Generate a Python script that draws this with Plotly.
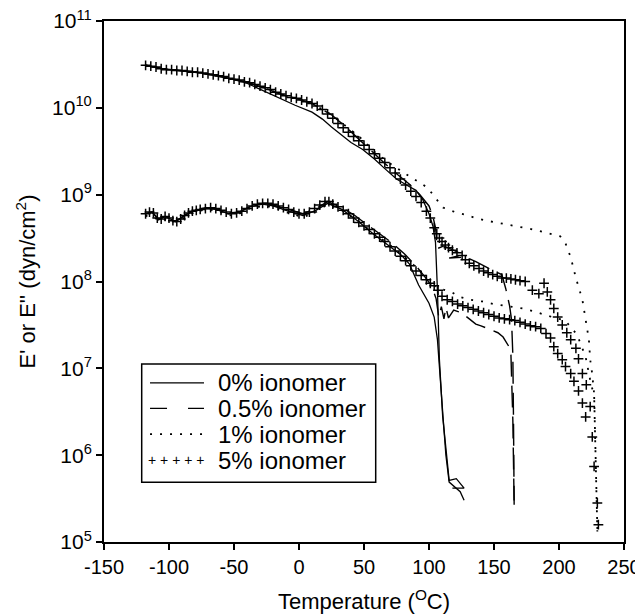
import numpy as np
import plotly.graph_objects as go

# Temperatures in degC, moduli as log10(dyn/cm2)
# E' = storage modulus (upper curves), E'' = loss modulus (lower curves)

# 0% ionomer
T_0_STORAGE = [-118, -105, -92, -79, -67, -54, -41, -28, -15, -3, 10, 18, 25, 32, 40, 49, 58, 66, 75, 84,
               90, 95, 100, 103, 105, 106.5, 108, 110.5, 113, 115.5, 121, 127, 118]
LOG_0_STORAGE = [10.49, 10.45, 10.43, 10.41, 10.38, 10.34, 10.29, 10.20, 10.11, 10.03, 9.95, 9.87, 9.78, 9.70,
                 9.60, 9.52, 9.41, 9.30, 9.18, 9.10, 9.05, 8.95, 8.78, 8.64, 8.45, 7.90, 7.10, 6.45, 6.05,
                 5.71, 5.73, 5.62, 5.62]
T_0_LOSS = [-118, -113, -108, -103, -95, -87, -80, -72, -64, -54, -46, -38, -28, -20, -10, 3, 13, 22, 33, 45,
            57, 68, 79, 85, 92, 100, 104, 106.5, 109, 111, 113, 115.5, 124, 127]
LOG_0_LOSS = [8.78, 8.80, 8.71, 8.75, 8.69, 8.77, 8.82, 8.84, 8.83, 8.78, 8.80, 8.86, 8.89, 8.87, 8.82, 8.76,
              8.82, 8.90, 8.83, 8.70, 8.55, 8.42, 8.30, 8.20, 7.96, 7.75, 7.59, 7.33, 6.87, 6.40, 6.00, 5.69,
              5.58, 5.48]

# 0.5% ionomer
T_05_STORAGE = [-118, -105, -92, -79, -67, -54, -41, -28, -15, -3, 10, 18, 25, 36, 46, 56, 66, 76, 85, 93,
                100, 103, 105, 106.5, 111.5, 126, 115.5, 128, 136, 146, 156, 159, 162, 163.5, 164.5, 165, 165.5]
LOG_05_STORAGE = [10.49, 10.45, 10.43, 10.41, 10.38, 10.34, 10.30, 10.24, 10.16, 10.11, 10.05, 9.98, 9.92,
                  9.78, 9.64, 9.49, 9.36, 9.23, 9.12, 9.00, 8.87, 8.75, 8.62, 8.38, 8.41, 8.31, 8.27, 8.28,
                  8.23, 8.15, 8.08, 7.92, 7.72, 7.56, 7.15, 6.40, 5.43]
T_05_LOSS = [-118, -113, -108, -103, -95, -87, -80, -72, -64, -54, -46, -38, -28, -20, -10, 3, 13, 22, 33, 43,
             51, 61, 72, 81, 90, 97, 102, 105.5, 107.5, 109.5, 111.5, 113, 115, 119, 125, 131, 136, 140, 147,
             153, 157, 161.5, 163, 164.5, 165.5]
LOG_05_LOSS = [8.78, 8.80, 8.72, 8.75, 8.69, 8.77, 8.82, 8.85, 8.84, 8.79, 8.80, 8.86, 8.90, 8.88, 8.84, 8.78,
               8.84, 8.92, 8.85, 8.76, 8.67, 8.56, 8.44, 8.32, 8.18, 8.05, 7.95, 7.80, 7.59, 7.71, 7.57, 7.70,
               7.58, 7.67, 7.64, 7.57, 7.51, 7.49, 7.45, 7.41, 7.36, 7.25, 7.17, 6.40, 5.43]

# 1% ionomer
T_1_STORAGE = [-118, -105, -92, -79, -67, -54, -41, -28, -15, -3, 10, 18, 25, 36, 47, 59, 70, 82, 91, 99,
               105, 111, 120, 128, 136, 144, 152, 161, 169, 177, 185, 193, 201, 205, 209, 213, 216, 218, 220.5,
               222, 223, 224, 225.5, 227, 227.5, 228, 229, 229.5]
LOG_1_STORAGE = [10.49, 10.45, 10.43, 10.41, 10.38, 10.34, 10.30, 10.24, 10.16, 10.11, 10.05, 9.98, 9.92,
                 9.79, 9.66, 9.48, 9.36, 9.24, 9.16, 9.08, 8.96, 8.85, 8.80, 8.77, 8.73, 8.70, 8.68, 8.65,
                 8.63, 8.61, 8.58, 8.55, 8.52, 8.44, 8.28, 8.04, 7.90, 7.79, 7.56, 7.44, 7.33, 7.10, 6.94,
                 6.71, 6.45, 6.05, 5.60, 5.12]
T_1_LOSS = [-118, -112, -106, -100, -94, -87, -80, -72, -64, -54, -46, -38, -28, -20, -10, 3, 13, 22, 33, 45,
            57, 70, 82, 92, 100, 108, 117, 124, 132, 141, 150, 160, 172, 182, 190, 197, 203, 206, 210, 213.5,
            217.5, 220.5, 223, 225, 227, 227.7, 228.5, 229.5]
LOG_1_LOSS = [8.76, 8.72, 8.74, 8.68, 8.70, 8.74, 8.80, 8.83, 8.82, 8.76, 8.78, 8.84, 8.87, 8.86, 8.80, 8.74,
              8.80, 8.89, 8.82, 8.70, 8.56, 8.42, 8.27, 8.14, 7.99, 7.92, 7.88, 7.82, 7.79, 7.77, 7.74, 7.72,
              7.69, 7.65, 7.61, 7.58, 7.56, 7.53, 7.45, 7.40, 7.25, 7.13, 6.94, 6.79, 6.71, 6.30, 5.80, 5.15]

# 5% ionomer
T_5_STORAGE = [-118, -114, -110, -106, -102, -98, -94, -90, -86, -82, -78, -74, -70, -66, -62, -58, -54, -50,
               -46, -42, -38, -34, -30, -26, -22, -18, -14, -10, -6, -2, 2, 6, 10, 14, 18, 22, 26, 30, 34, 38,
               42, 46, 50, 54, 58, 62, 66, 70, 74, 78, 82, 86, 90, 94, 98, 101, 104, 106, 108, 110, 112.5, 115,
               118, 121.5, 125.5, 128, 131, 134.5, 138.5, 142, 145.5, 149, 152.5, 156, 159.5, 163, 166.5, 170,
               174, 179.5, 184.5, 188.5, 191, 193.5, 196, 199, 202.5, 206, 209, 213, 215, 218, 221, 224, 225.6,
               227, 229.5, 230.3]
LOG_5_STORAGE = [10.49, 10.48, 10.47, 10.45, 10.44, 10.44, 10.43, 10.43, 10.42, 10.41, 10.41, 10.40, 10.39,
                 10.38, 10.37, 10.36, 10.34, 10.33, 10.32, 10.30, 10.29, 10.27, 10.25, 10.23, 10.21, 10.18,
                 10.16, 10.14, 10.12, 10.11, 10.09, 10.07, 10.05, 10.02, 9.98, 9.93, 9.88, 9.82, 9.77, 9.72,
                 9.67, 9.62, 9.57, 9.52, 9.47, 9.42, 9.37, 9.31, 9.25, 9.18, 9.11, 9.04, 8.98, 8.91, 8.81,
                 8.73, 8.62, 8.55, 8.50, 8.46, 8.42, 8.39, 8.36, 8.33, 8.30, 8.25, 8.21, 8.18, 8.15, 8.12,
                 8.10, 8.08, 8.06, 8.04, 8.04, 8.03, 8.02, 8.01, 8.00, 7.90, 7.86, 7.98, 7.88, 7.79, 7.69,
                 7.59, 7.50, 7.41, 7.33, 7.23, 7.11, 6.94, 6.81, 6.56, 6.21, 5.87, 5.45, 5.20]
T_5_LOSS = [-118, -115, -112, -109, -106, -103, -100, -97, -94, -91, -88, -85, -82, -79, -76, -72, -68, -64,
            -60, -56, -52, -48, -44, -40, -36, -32, -28, -24, -20, -16, -12, -8, -4, 0, 4, 8, 12, 16, 20, 23,
            26, 30, 34, 38, 42, 46, 50, 54, 58, 62, 66, 70, 74, 78, 82, 86, 90, 94, 98, 101, 104, 107, 110, 114,
            118, 122, 126, 130, 134, 138, 142, 146, 150, 154, 158, 162, 166, 170, 174, 178, 182, 186, 190,
            193.5, 196, 199, 202.5, 205, 209, 211.5, 215, 218, 220.5]
LOG_5_LOSS = [8.78, 8.80, 8.79, 8.73, 8.72, 8.75, 8.73, 8.70, 8.69, 8.72, 8.76, 8.79, 8.81, 8.82, 8.83, 8.84,
              8.85, 8.84, 8.82, 8.80, 8.78, 8.79, 8.81, 8.84, 8.87, 8.89, 8.90, 8.90, 8.89, 8.87, 8.85, 8.83,
              8.80, 8.78, 8.78, 8.80, 8.84, 8.88, 8.92, 8.92, 8.89, 8.86, 8.82, 8.78, 8.73, 8.68, 8.64, 8.60,
              8.55, 8.51, 8.46, 8.40, 8.35, 8.29, 8.24, 8.18, 8.12, 8.07, 8.02, 7.98, 7.95, 7.90, 7.83, 7.79,
              7.77, 7.74, 7.72, 7.70, 7.68, 7.66, 7.64, 7.62, 7.60, 7.58, 7.57, 7.56, 7.55, 7.53, 7.51, 7.49,
              7.48, 7.46, 7.40, 7.35, 7.25, 7.17, 7.10, 7.02, 6.94, 6.85, 6.74, 6.60, 6.44]

LEGEND_NAMES = ["0% ionomer", "0.5% ionomer", "1% ionomer", "5% ionomer"]

X_TICKS = [-150, -100, -50, 0, 50, 100, 150, 200, 250]
X_TICK_LABELS = ["-150", "-100", "-50", "0", "50", "100", "150", "200", "250"]
Y_DECADES = [5, 6, 7, 8, 9, 10, 11]


# PLOT PROPERTIES
FONT = "Liberation Sans, Arial, sans-serif"

# the page body keeps an 8px margin, so the figure sits at (8, 8) in the window
FIG_W, FIG_H = 635, 608

STYLE_0 = dict(mode="lines", line=dict(color="black", width=1.3))
STYLE_05 = dict(mode="lines", line=dict(color="black", width=1.4, dash="22px,9px"))
STYLE_1 = dict(mode="lines", line=dict(color="black", width=1.8, dash="2px,8px"))
STYLE_5 = dict(mode="markers",
               marker=dict(symbol="cross-thin", size=7, color="black", line=dict(color="black", width=1.5)))

SERIES = [
    (LEGEND_NAMES[0], STYLE_0, [(T_0_STORAGE, LOG_0_STORAGE), (T_0_LOSS, LOG_0_LOSS)]),
    (LEGEND_NAMES[1], STYLE_05, [(T_05_STORAGE, LOG_05_STORAGE), (T_05_LOSS, LOG_05_LOSS)]),
    (LEGEND_NAMES[2], STYLE_1, [(T_1_STORAGE, LOG_1_STORAGE), (T_1_LOSS, LOG_1_LOSS)]),
    (LEGEND_NAMES[3], STYLE_5, [(T_5_STORAGE, LOG_5_STORAGE), (T_5_LOSS, LOG_5_LOSS)]),
]

# hand-drawn legend box, in paper coordinates
LEG_BOX = dict(x0=0.0725, x1=0.5225, y0=0.1145, y1=0.3415)
LEG_ROWS = [0.3056, 0.2565, 0.2072, 0.1573]
LEG_SAMPLE_X = (0.0885, 0.1923)
LEG_PLUS_X = 0.0808
LEG_TEXT_X = 0.2148


def make_traces():
    traces = []
    for name, style, curves in SERIES:
        for temps, logs in curves:
            traces.append(go.Scatter(x=temps, y=10 ** np.array(logs), name=name, showlegend=False, **style))
    return traces


def add_legend(fig):
    fig.add_shape(type="rect", xref="paper", yref="paper", line=dict(color="black", width=1.5),
                  fillcolor="white", layer="above", **LEG_BOX)
    dashes = ["solid", "17px,21px", "2px,8px", None]
    widths = [1.3, 1.4, 1.8, None]
    for i, yy in enumerate(LEG_ROWS):
        if dashes[i] is not None:
            fig.add_shape(type="line", xref="paper", yref="paper", x0=LEG_SAMPLE_X[0], x1=LEG_SAMPLE_X[1],
                          y0=yy, y1=yy, line=dict(color="black", width=widths[i], dash=dashes[i]))
        else:
            fig.add_annotation(x=LEG_PLUS_X, y=yy, xref="paper", yref="paper", xanchor="left",
                               yanchor="middle", text="+ + + + +", showarrow=False,
                               font=dict(family=FONT, size=14, color="black"))
        fig.add_annotation(x=LEG_TEXT_X, y=yy, xref="paper", yref="paper", xanchor="left", yanchor="middle",
                           text=LEGEND_NAMES[i], showarrow=False, font=dict(family=FONT, size=24, color="black"))


axis_common = dict(showline=True, linecolor="black", linewidth=2, mirror=True, showgrid=False, zeroline=False,
                   ticks="outside", ticklen=6, tickwidth=2, tickcolor="black", automargin=False,
                   ticklabeloverflow="allow")

layout = dict(
    width=FIG_W, height=FIG_H,
    margin=dict(l=96, r=19, t=13, b=74),
    paper_bgcolor="white", plot_bgcolor="white",
    font=dict(family=FONT, color="black"),
    showlegend=False,
    xaxis=dict(range=[-150, 250], tickvals=X_TICKS, ticktext=X_TICK_LABELS, tickfont=dict(size=20),
               title=dict(text="Temperature (<sup>O</sup>C)", font=dict(size=22), standoff=17),
               **axis_common),
    yaxis=dict(type="log", range=[5, 11], tickvals=[10 ** d for d in Y_DECADES],
               ticktext=["10<sup>%d</sup>" % d for d in Y_DECADES], tickfont=dict(size=21),
               title=dict(text="E' or E'' (dyn/cm<sup>2</sup>)", font=dict(size=22), standoff=10),
               **axis_common),
)

fig = go.Figure(data=make_traces(), layout=layout)
add_legend(fig)

fig.write_html("out.html")
